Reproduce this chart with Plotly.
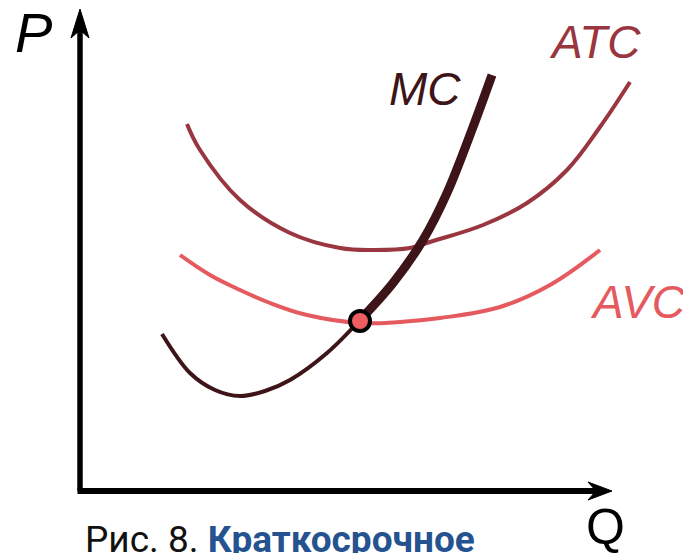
import plotly.graph_objects as go

# Quantity (Q) and price (P) readings, arbitrary units
mc_q = [8.2, 11.0, 13.5, 16.0, 18.5, 21.0, 24.7, 28.0, 31.3, 34.3, 36.7, 39.3, 41.2]
mc_p = [15.7, 11.8, 10.1, 9.5, 10.0, 11.1, 13.8, 17.1, 20.8, 25.1, 29.8, 36.4, 41.6]

atc_q = [10.7, 12.0, 16.0, 21.0, 26.0, 29.3, 33.0, 35.3, 40.3, 44.7, 48.7, 52.0, 55.0]
atc_p = [36.7, 34.1, 29.1, 25.8, 24.3, 24.1, 24.3, 25.0, 26.6, 28.8, 32.1, 36.4, 40.9]

avc_q = [10.0, 13.0, 16.0, 19.0, 22.7, 28.0, 32.0, 36.0, 42.0, 47.0, 52.0]
avc_p = [23.6, 21.6, 20.1, 18.8, 17.6, 16.8, 16.9, 17.3, 18.4, 20.6, 24.1]

shutdown_q = [28.0]
shutdown_p = [17.0]
split = 7  # MC index where the supply (thick) part starts

C_MC = "#3d1417"
C_ATC = "#993640"
C_AVC = "#e45a5f"

fig = go.Figure()
fig.add_trace(go.Scatter(x=atc_q, y=atc_p, mode="lines", line=dict(color=C_ATC, width=4, shape="spline", smoothing=1.1), hoverinfo="skip"))
fig.add_trace(go.Scatter(x=avc_q, y=avc_p, mode="lines", line=dict(color=C_AVC, width=4, shape="spline", smoothing=1.1), hoverinfo="skip"))
fig.add_trace(go.Scatter(x=mc_q[:split + 1], y=mc_p[:split + 1], mode="lines", line=dict(color=C_MC, width=4, shape="spline"), hoverinfo="skip"))
fig.add_trace(go.Scatter(x=mc_q[split:], y=mc_p[split:], mode="lines", line=dict(color=C_MC, width=9, shape="spline"), hoverinfo="skip"))
fig.add_trace(go.Scatter(x=shutdown_q, y=shutdown_p, mode="markers",
                         marker=dict(size=20, color="#ee5d61", line=dict(color="black", width=4)), hoverinfo="skip"))

# axes with arrows
ax_col = "black"
fig.add_shape(type="line", x0=0, y0=0, x1=0, y1=46.5, line=dict(color=ax_col, width=5.5), xref="x", yref="y")
fig.add_shape(type="line", x0=-0.25, y0=0, x1=51.5, y1=0, line=dict(color=ax_col, width=6), xref="x", yref="y")
fig.add_shape(type="path", path="M 0 48.2 L 0.9 45.3 L 0 46.1 L -0.9 45.3 Z",
              fillcolor=ax_col, line=dict(color=ax_col, width=1), xref="x", yref="y")
fig.add_shape(type="path", path="M 53.2 0 L 50.8 0.9 L 51.6 0 L 50.8 -0.9 Z",
              fillcolor=ax_col, line=dict(color=ax_col, width=1), xref="x", yref="y")

def label(text, x, y, size, color, italic=True, family="Liberation Sans, Arial, sans-serif", xanchor="center"):
    fig.add_annotation(x=x, y=y, text=text, showarrow=False, xanchor=xanchor, yanchor="middle",
                       font=dict(size=size, color=color, family=family, style="italic" if italic else "normal"))

label("P", -4.7, 45.9, 56, "black")
label("Q", 52.5, -3.6, 50, "black", italic=False)
label("MC", 34.5, 40.2, 46, C_MC)
label("ATC", 51.5, 44.9, 46, C_ATC)
label("AVC", 55.8, 18.9, 46, C_AVC)
fig.add_annotation(x=0.3, y=-4.8, xanchor="left", yanchor="middle", showarrow=False,
                   text="Рис. 8. <b><span style='color:#24538f'>Краткосрочное</span></b>",
                   font=dict(size=37, color="#111111", family="Roboto, sans-serif"))

# page body has an 8px margin: figure spans page px 8..691 x 8..553
fig.update_layout(
    width=683, height=545, margin=dict(l=0, r=0, t=0, b=0),
    paper_bgcolor="white", plot_bgcolor="white", showlegend=False,
    xaxis=dict(range=[-7.2, 61.1], visible=False, fixedrange=True),
    yaxis=dict(range=[-6.2, 48.3], visible=False, fixedrange=True),
)
fig.write_html("out.html")
